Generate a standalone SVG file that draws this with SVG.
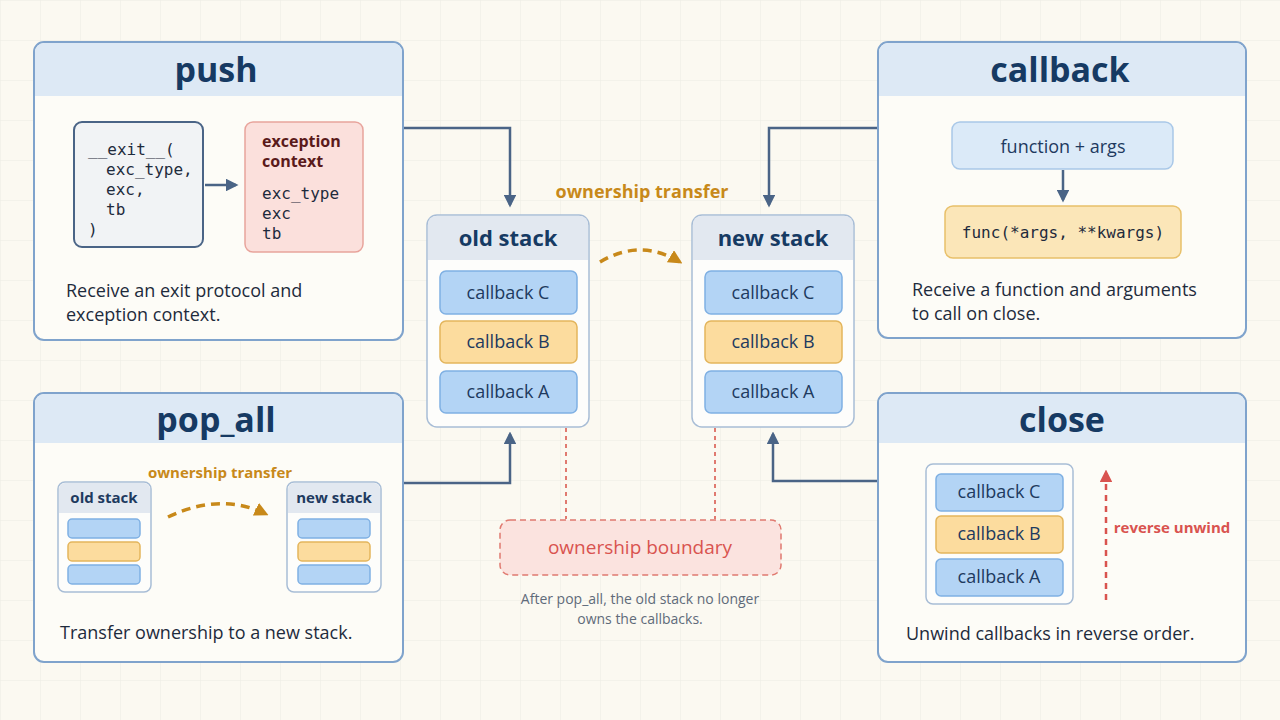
<svg xmlns="http://www.w3.org/2000/svg" width="1280" height="720" viewBox="0 0 1280 720">
<defs>
<pattern id="grid" width="40" height="40" patternUnits="userSpaceOnUse"><path d="M40 0H0V40" fill="none" stroke="#ecebe3" stroke-width="1"/></pattern>
<marker id="ah" viewBox="0 0 10 10" refX="8" refY="5" markerWidth="5" markerHeight="5" orient="auto"><path d="M0 0L10 5L0 10z" fill="#4a6486"/></marker>
<marker id="ao" viewBox="0 0 10 10" refX="8" refY="5" markerWidth="4" markerHeight="4" orient="auto"><path d="M0 0L10 5L0 10z" fill="#c8891a"/></marker>
<marker id="ar" viewBox="0 0 10 10" refX="8" refY="5" markerWidth="5" markerHeight="5" orient="auto"><path d="M0 0L10 5L0 10z" fill="#d9534f"/></marker>
<style>
.panel{fill:#fdfcf7;stroke:#7fa3cc;stroke-width:2}
.hdr{fill:#dde9f5}
.title{font-family:"Open Sans","Liberation Sans",sans-serif;font-weight:700;fill:#163a63;text-anchor:middle}
.body{font-family:"Open Sans","Liberation Sans",sans-serif;font-size:18px;fill:#1e2b3c}
.mono{font-family:"DejaVu Sans Mono","Liberation Mono",monospace;font-size:16px;fill:#1e2b3c}
.blue{fill:#b3d4f5;stroke:#7fb0e3;stroke-width:1.5}
.orange{fill:#fcdc9e;stroke:#e3b55c;stroke-width:1.5}
.lbl{font-family:"Open Sans","Liberation Sans",sans-serif;font-size:18px;fill:#1e3a5f;text-anchor:middle}
.stack{fill:#fdfdfb;stroke:#a8bdd6;stroke-width:1.5}
.shdr{fill:#e2e8f0}
.conn{fill:none;stroke:#4a6486;stroke-width:2.5}
.orng{font-family:"Open Sans","Liberation Sans",sans-serif;font-weight:700;fill:#c8891a;text-anchor:middle}
</style>
</defs>
<rect width="1280" height="720" fill="#fbf9f1"/>
<rect width="1280" height="720" fill="url(#grid)"/>

<g id="connectors">
<path class="conn" d="M403 128H510V205" marker-end="url(#ah)"/>
<path class="conn" d="M878 128H769V205" marker-end="url(#ah)"/>
<path class="conn" d="M403 483H510V434" marker-end="url(#ah)"/>
<path class="conn" d="M878 481H773V434" marker-end="url(#ah)"/>
<path d="M600 262Q640 238 680 262" fill="none" stroke="#c8891a" stroke-width="3.5" stroke-dasharray="9 6" marker-end="url(#ao)"/>
<path d="M566 428V519M715 428V519" stroke="#e07a70" stroke-width="2" stroke-dasharray="4 4"/>
</g>

<g id="push">
<rect class="panel" x="34" y="42" width="369" height="298" rx="10"/>
<path class="hdr" d="M44 43H393a9 9 0 0 1 9 9V96H35V52a9 9 0 0 1 9-9z"/>
<text class="title" x="216" y="82" font-size="34">push</text>
<rect x="74" y="122" width="129" height="125" rx="8" fill="#f1f3f5" stroke="#4a6486" stroke-width="2"/>
<text class="mono" x="88" y="155">__exit__(</text>
<text class="mono" x="106" y="175">exc_type,</text>
<text class="mono" x="106" y="195">exc,</text>
<text class="mono" x="106" y="215">tb</text>
<text class="mono" x="88" y="235">)</text>
<path class="conn" d="M205 185H236" marker-end="url(#ah)"/>
<rect x="245" y="122" width="118" height="130" rx="8" fill="#fbe0dc" stroke="#e8a49c" stroke-width="1.5"/>
<text x="262" y="147" font-family="Open Sans,Liberation Sans,sans-serif" font-weight="700" font-size="16" fill="#5a1a1a">exception</text>
<text x="262" y="167" font-family="Open Sans,Liberation Sans,sans-serif" font-weight="700" font-size="16" fill="#5a1a1a">context</text>
<text class="mono" x="262" y="199">exc_type</text>
<text class="mono" x="262" y="219">exc</text>
<text class="mono" x="262" y="239">tb</text>
<text class="body" x="66" y="297">Receive an exit protocol and</text>
<text class="body" x="66" y="321">exception context.</text>
</g>

<g id="callback">
<rect class="panel" x="878" y="42" width="368" height="296" rx="10"/>
<path class="hdr" d="M888 43H1236a9 9 0 0 1 9 9V96H879V52a9 9 0 0 1 9-9z"/>
<text class="title" x="1060" y="82" font-size="34">callback</text>
<rect x="952" y="122" width="221" height="47" rx="8" fill="#dbeaf8" stroke="#a9c8e8" stroke-width="1.5"/>
<text class="lbl" x="1063" y="153" font-size="20">function + args</text>
<path class="conn" d="M1063 170V200" marker-end="url(#ah)"/>
<rect x="945" y="206" width="236" height="52" rx="8" fill="#fbe6b8" stroke="#e8c06a" stroke-width="1.5"/>
<text class="mono" x="1063" y="238" text-anchor="middle">func(*args, **kwargs)</text>
<text class="body" x="912" y="296">Receive a function and arguments</text>
<text class="body" x="912" y="320">to call on close.</text>
</g>

<g id="pop_all">
<rect class="panel" x="34" y="393" width="369" height="269" rx="10"/>
<path class="hdr" d="M44 394H393a9 9 0 0 1 9 9V443H35V403a9 9 0 0 1 9-9z"/>
<text class="title" x="216" y="432" font-size="34">pop_all</text>
<text class="orng" x="220" y="478" font-size="15">ownership transfer</text>
<rect class="stack" x="58" y="482" width="93" height="110" rx="7"/>
<path class="shdr" d="M65 483H144a6 6 0 0 1 6 6V513H59V489a6 6 0 0 1 6-6z"/>
<text x="104" y="503" font-family="Open Sans,Liberation Sans,sans-serif" font-weight="700" font-size="15" fill="#1e3a5f" text-anchor="middle">old stack</text>
<rect class="blue" x="68" y="519" width="72" height="19" rx="4"/>
<rect class="orange" x="68" y="542" width="72" height="19" rx="4"/>
<rect class="blue" x="68" y="565" width="72" height="19" rx="4"/>
<path d="M168 517Q220 492 266 514" fill="none" stroke="#c8891a" stroke-width="3.5" stroke-dasharray="9 6" marker-end="url(#ao)"/>
<rect class="stack" x="287" y="482" width="94" height="110" rx="7"/>
<path class="shdr" d="M294 483H374a6 6 0 0 1 6 6V513H288V489a6 6 0 0 1 6-6z"/>
<text x="334" y="503" font-family="Open Sans,Liberation Sans,sans-serif" font-weight="700" font-size="15" fill="#1e3a5f" text-anchor="middle">new stack</text>
<rect class="blue" x="298" y="519" width="72" height="19" rx="4"/>
<rect class="orange" x="298" y="542" width="72" height="19" rx="4"/>
<rect class="blue" x="298" y="565" width="72" height="19" rx="4"/>
<text class="body" x="60" y="639">Transfer ownership to a new stack.</text>
</g>

<g id="close">
<rect class="panel" x="878" y="393" width="368" height="269" rx="10"/>
<path class="hdr" d="M888 394H1236a9 9 0 0 1 9 9V443H879V403a9 9 0 0 1 9-9z"/>
<text class="title" x="1062" y="432" font-size="34">close</text>
<rect class="stack" x="926" y="464" width="147" height="140" rx="7"/>
<rect class="blue" x="936" y="474" width="127" height="37" rx="5"/>
<text class="lbl" x="999" y="498" font-size="16">callback C</text>
<rect class="orange" x="936" y="516" width="127" height="37" rx="5"/>
<text class="lbl" x="999" y="540" font-size="16">callback B</text>
<rect class="blue" x="936" y="559" width="127" height="37" rx="5"/>
<text class="lbl" x="999" y="583" font-size="16">callback A</text>
<path d="M1106 600V472" stroke="#d9534f" stroke-width="2.5" stroke-dasharray="6 5" marker-end="url(#ar)"/>
<text x="1172" y="533" font-family="Open Sans,Liberation Sans,sans-serif" font-weight="700" font-size="15" fill="#d9534f" text-anchor="middle">reverse unwind</text>
<text class="body" x="906" y="640">Unwind callbacks in reverse order.</text>
</g>

<g id="old_stack">
<rect class="stack" x="427" y="215" width="162" height="212" rx="10"/>
<path class="shdr" d="M436 216H580a8 8 0 0 1 8 8V260H428V224a8 8 0 0 1 8-8z"/>
<text class="title" x="508" y="246" font-size="22">old stack</text>
<rect class="blue" x="440" y="271" width="137" height="43" rx="6"/>
<text class="lbl" x="508" y="299">callback C</text>
<rect class="orange" x="440" y="321" width="137" height="42" rx="6"/>
<text class="lbl" x="508" y="348">callback B</text>
<rect class="blue" x="440" y="371" width="137" height="42" rx="6"/>
<text class="lbl" x="508" y="398">callback A</text>
</g>

<text class="orng" x="642" y="198" font-size="18">ownership transfer</text>

<g id="new_stack">
<rect class="stack" x="692" y="215" width="162" height="212" rx="10"/>
<path class="shdr" d="M701 216H845a8 8 0 0 1 8 8V260H693V224a8 8 0 0 1 8-8z"/>
<text class="title" x="773" y="246" font-size="22">new stack</text>
<rect class="blue" x="705" y="271" width="137" height="43" rx="6"/>
<text class="lbl" x="773" y="299">callback C</text>
<rect class="orange" x="705" y="321" width="137" height="42" rx="6"/>
<text class="lbl" x="773" y="348">callback B</text>
<rect class="blue" x="705" y="371" width="137" height="42" rx="6"/>
<text class="lbl" x="773" y="398">callback A</text>
</g>

<g id="ownership_boundary">
<rect x="500" y="520" width="281" height="55" rx="10" fill="#fbe3df" stroke="#e07a70" stroke-width="1.5" stroke-dasharray="6 4"/>
<text x="640" y="554" font-family="Open Sans,Liberation Sans,sans-serif" font-size="19" fill="#d9534f" text-anchor="middle">ownership boundary</text>
<text x="640" y="604" font-family="Open Sans,Liberation Sans,sans-serif" font-size="14" fill="#5f6b7a" text-anchor="middle">After pop_all, the old stack no longer</text>
<text x="640" y="624" font-family="Open Sans,Liberation Sans,sans-serif" font-size="14" fill="#5f6b7a" text-anchor="middle">owns the callbacks.</text>
</g>
</svg>
